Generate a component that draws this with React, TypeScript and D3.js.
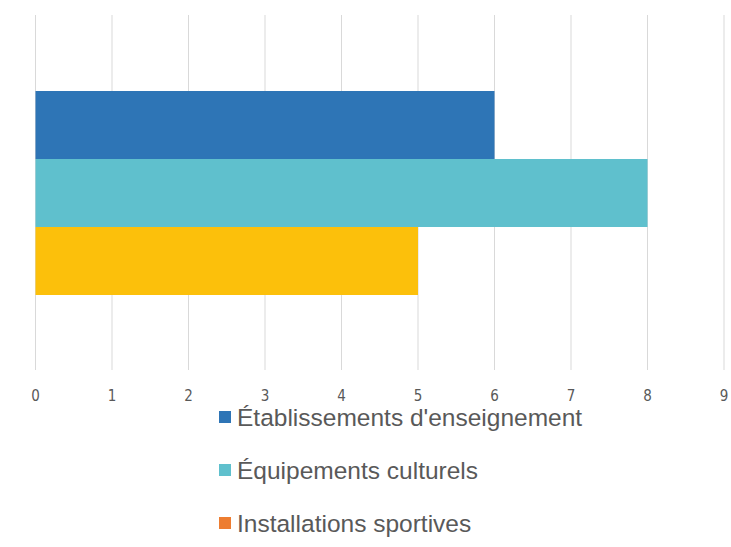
import React from "react";
import * as d3 from "d3";

const categories = ["Établissements d'enseignement", "Équipements culturels", "Installations sportives"];
const values = [6, 8, 5];
const barColors = ["#2E75B6", "#5FC0CD", "#FCC00B"];
const legendColors = ["#2E75B6", "#5FC0CD", "#ED7D31"];
const ticks = [0, 1, 2, 3, 4, 5, 6, 7, 8, 9];

export default function App() {
  const W = 731, H = 547;
  const x = d3.scaleLinear().domain([0, 9]).range([35.5, 724]);
  const y = d3.scaleBand().domain(categories).range([91, 295]).paddingInner(0);
  const gridTop = 15, gridBottom = 370;
  return (
    <svg width={W} height={H} style={{ position: "absolute", left: 0, top: 0, background: "#fff" }}>
      {ticks.map((t) => (
        <line key={"g" + t} x1={x(t)} x2={x(t)} y1={gridTop} y2={gridBottom} stroke="#d9d9d9" strokeWidth={1} />
      ))}
      {categories.map((c, i) => (
        <rect key={c} x={x(0)} y={y(c)} width={x(values[i]) - x(0)} height={y.bandwidth()} fill={barColors[i]} />
      ))}
      {ticks.map((t) => (
        <text key={"t" + t} x={x(t)} y={401} textAnchor="middle" fontFamily="DejaVu Sans Condensed, DejaVu Sans" fontSize={15} fill="#595959">
          {t}
        </text>
      ))}
      {categories.map((c, i) => (
        <g key={"l" + c} transform={`translate(219, ${417 + i * 53})`}>
          <rect x={0} y={-6} width={12} height={12} fill={legendColors[i]} />
          <text x={18} y={0} dy="0.35em" fontFamily="Liberation Sans, Arial" fontSize={24.5} fill="#595959">
            {c}
          </text>
        </g>
      ))}
    </svg>
  );
}
